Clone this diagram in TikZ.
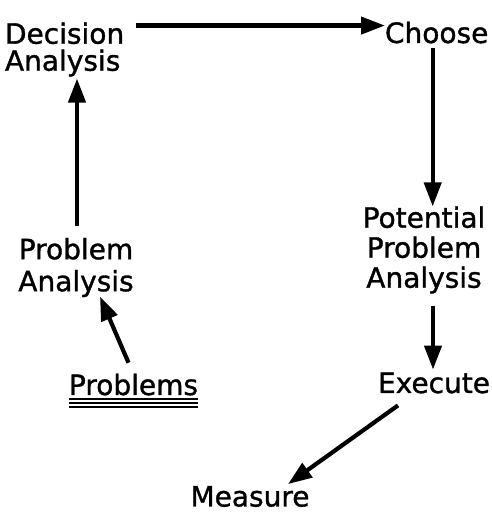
\documentclass[tikz,border=0pt]{standalone}
\usepackage{fontspec}
\setmainfont[FakeBold=1.2]{DejaVu Sans}
\usetikzlibrary{arrows.meta,calc}

\begin{document}
\begin{tikzpicture}[
    x=1pt, y=1pt,
    font=\fontsize{28pt}{28pt}\selectfont,
    stepText/.style={
        inner sep=0pt,
        outer sep=0pt
    },
    flowLine/.style={
        line width=4.2pt,
        draw=black,
        -{Triangle[length=24pt,width=17pt]}
    },
    underLine/.style={
        line width=1.7pt,
        draw=black
    }
]
\useasboundingbox (0,0) rectangle (491,513);

% ==================== TOP ROW ====================
\node[stepText, align=left, anchor=west, font=\fontsize{28pt}{27pt}\selectfont] (decision) at (5,463.5) {Decision\\Analysis};
\node[stepText, anchor=base west] (choose) at (385,470) {Choose};

\draw[flowLine] ($(decision.east |- choose.west)+(12pt,7pt)$) -- ($(choose.west)+(0,7pt)$);

% ==================== RIGHT COLUMN ====================
\node[stepText, align=center, font=\fontsize{28pt}{30pt}\selectfont] (potential) at (424,263) {Potential\\Problem\\Analysis};
\node[stepText, anchor=base] (execute) at (434,120) {Execute};
\node[stepText, anchor=base] (measure) at (250,6.5) {Measure};

\coordinate (chooseOut) at ($(choose.south)+(-4pt,-5pt)$);
\draw[flowLine] (chooseOut) -- (chooseOut |- potential.north);
\draw[flowLine] ($(execute.north |- potential.south)+(-1pt,-12pt)$) -- ($(execute.north)+(-1pt,3pt)$);
\draw[flowLine] ($(execute.south)+(-36pt,-12pt)$) -- ($(measure.north)+(38pt,2pt)$);

% ==================== LEFT COLUMN ====================
\node[stepText, align=center, font=\fontsize{28pt}{32pt}\selectfont] (problemAnalysis) at (76,245.5) {Problem\\Analysis};
\node[stepText, anchor=base] (problems) at (133.5,118) {Problems};

\foreach \d in {4,8,12}
    \draw[underLine] ([yshift=-\d pt]problems.base west) -- ([yshift=-\d pt]problems.base east);

\draw[flowLine] ($(problemAnalysis.north)+(1pt,12pt)$) -- ($(problemAnalysis.north |- decision.south)+(1pt,-2pt)$);
\draw[flowLine] ($(problems.north)+(-5pt,11pt)$) -- ($(problemAnalysis.center)+(24pt,-29pt)$);

\end{tikzpicture}
\end{document}
